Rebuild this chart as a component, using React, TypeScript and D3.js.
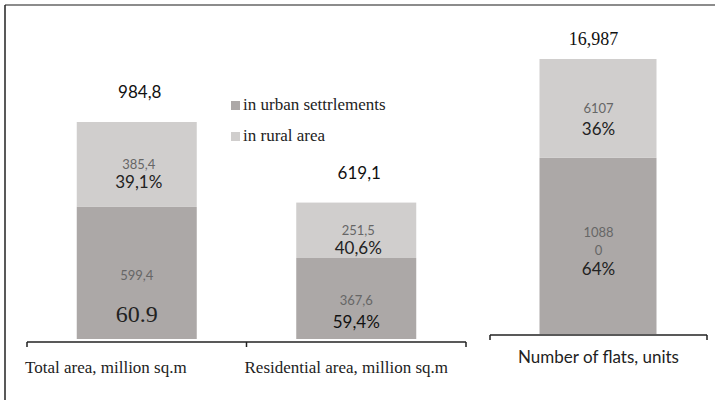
import React from 'react';
import * as d3 from 'd3';

// categories and values
const areaCategories = ['Total area, million sq.m', 'Residential area, million sq.m'];
const areaUrban = [599.4, 367.6];
const areaRural = [385.4, 251.5];
const areaTotals = ['984,8', '619,1'];
const areaUrbanLabels = ['599,4', '367,6'];
const areaRuralLabels = ['385,4', '251,5'];
const areaUrbanPct = ['60.9', '59,4%'];
const areaRuralPct = ['39,1%', '40,6%'];

const flatsCategory = ['Number of flats, units'];
const flatsUrban = [10880];
const flatsRural = [6107];
const flatsTotal = '16,987';
const flatsUrbanLabel = ['1088', '0'];
const flatsRuralLabel = '6107';
const flatsUrbanPct = '64%';
const flatsRuralPct = '36%';

const legendItems = ['in urban settrlements', 'in rural area'];

const URBAN = '#aca8a7';
const RURAL = '#d0cecd';
const SANS = 'Lato, sans-serif';
const SERIF = 'Liberation Serif, Times New Roman, serif';

const W = 715;
const H = 400;
const BAR_W = 120;

const sans = (size: number): React.CSSProperties => ({ fontFamily: SANS, fontSize: size });
const serif = (size: number): React.CSSProperties => ({ fontFamily: SERIF, fontSize: size });

export default function App() {
  const xArea = d3.scaleBand<string>().domain(areaCategories).range([27, 466]);
  const yArea = d3.scaleLinear().domain([0, 984.8]).range([339, 122]);

  const xFlats = d3.scaleBand<string>().domain(flatsCategory).range([490, 707]);
  const yFlats = d3.scaleLinear().domain([0, 16987]).range([334, 59]);

  const areaAxisY = 342;
  const flatsAxisY = 335;

  return (
    <svg width={W} height={H} style={{ position: 'absolute', left: 0, top: 0, background: '#fff' }}>
      {/* frame: top and left only */}
      <line x1={5} x2={W} y1={5} y2={5} stroke="#666" strokeWidth={1.5} />
      <line x1={5} x2={5} y1={5} y2={H} stroke="#222" strokeWidth={1.5} />

      {/* area bars */}
      {areaCategories.map((c, i) => {
        const x0 = xArea(c) || 0;
        const cx = x0 + xArea.bandwidth() / 2;
        const yU = yArea(areaUrban[i]);
        const yT = yArea(areaUrban[i] + areaRural[i]);
        return (
          <g key={c}>
            <rect x={cx - BAR_W / 2} y={yU} width={BAR_W} height={yArea(0) - yU} fill={URBAN} />
            <rect x={cx - BAR_W / 2} y={yT} width={BAR_W} height={yU - yT} fill={RURAL} />
            <text x={cx + 3} y={yT - 24} textAnchor="middle" style={sans(17)} fill="#111">
              {areaTotals[i]}
            </text>
            <text x={cx + 2} y={(yT + yU) / 2 + 5} textAnchor="middle" style={sans(13)} fill="#666">
              {areaRuralLabels[i]}
            </text>
            <text x={cx + 2} y={(yT + yU) / 2 + 24} textAnchor="middle" style={sans(17)} fill="#222">
              {areaRuralPct[i]}
            </text>
            <text x={cx} y={(yU + yArea(0)) / 2 + 7} textAnchor="middle" style={sans(13)} fill="#666">
              {areaUrbanLabels[i]}
            </text>
            {i === 0 ? (
              <text x={cx} y={yArea(0) - 17} textAnchor="middle" style={serif(24)} fill="#222">
                {areaUrbanPct[i]}
              </text>
            ) : (
              <text x={cx} y={yArea(0) - 11} textAnchor="middle" style={sans(17)} fill="#111">
                {areaUrbanPct[i]}
              </text>
            )}
            <text x={x0 - 2} y={373} textAnchor="start" style={serif(17)} fill="#222">
              {c}
            </text>
          </g>
        );
      })}
      {/* area axis bracket */}
      <line x1={27} x2={466} y1={areaAxisY} y2={areaAxisY} stroke="#222" strokeWidth={1.5} />
      {[27, xArea(areaCategories[1]) || 0, 466].map((x, i) => (
        <line key={i} x1={x} x2={x} y1={areaAxisY} y2={areaAxisY + 5} stroke="#222" strokeWidth={1.5} />
      ))}

      {/* flats bar */}
      {flatsCategory.map((c, i) => {
        const cx = (xFlats(c) || 0) + xFlats.bandwidth() / 2;
        const yU = yFlats(flatsUrban[i]);
        const yT = yFlats(flatsUrban[i] + flatsRural[i]);
        return (
          <g key={c}>
            <rect x={cx - BAR_W / 2 + 1} y={yU} width={BAR_W - 3} height={yFlats(0) - yU} fill={URBAN} />
            <rect x={cx - BAR_W / 2 + 1} y={yT} width={BAR_W - 3} height={yU - yT} fill={RURAL} />
            <text x={cx - 5} y={yT - 14} textAnchor="middle" style={serif(18)} fill="#111">
              {flatsTotal}
            </text>
            <text x={cx} y={yT + 54} textAnchor="middle" style={sans(13)} fill="#666">
              {flatsRuralLabel}
            </text>
            <text x={cx} y={yT + 76} textAnchor="middle" style={sans(17)} fill="#222">
              {flatsRuralPct}
            </text>
            {flatsUrbanLabel.map((t, k) => (
              <text key={k} x={cx} y={yU + 79 + k * 18} textAnchor="middle" style={sans(13)} fill="#666">
                {t}
              </text>
            ))}
            <text x={cx} y={yU + 117} textAnchor="middle" style={sans(17)} fill="#222">
              {flatsUrbanPct}
            </text>
            <text x={cx} y={363} textAnchor="middle" style={sans(17)} fill="#222">
              {c}
            </text>
          </g>
        );
      })}
      <line x1={490} x2={707} y1={flatsAxisY} y2={flatsAxisY} stroke="#222" strokeWidth={1.5} />
      {[490, 707].map((x, i) => (
        <line key={i} x1={x} x2={x} y1={flatsAxisY} y2={flatsAxisY + 5} stroke="#222" strokeWidth={1.5} />
      ))}

      {/* legend */}
      {legendItems.map((t, i) => (
        <g key={t} transform={`translate(231,${101 + i * 31})`}>
          <rect x={0} y={0} width={9} height={9} fill={i === 0 ? URBAN : RURAL} />
          <text x={12} y={9} style={serif(17)} fill="#222">
            {t}
          </text>
        </g>
      ))}
    </svg>
  );
}
